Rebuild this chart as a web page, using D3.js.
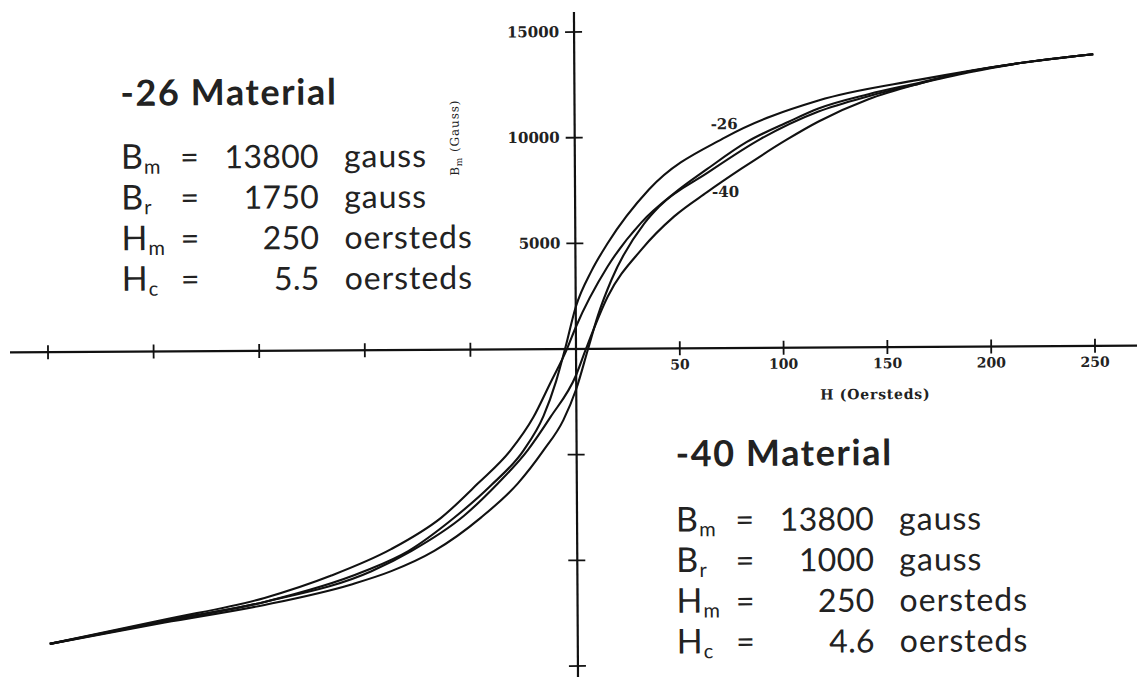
<!DOCTYPE html>
<html><head><meta charset="utf-8">
<script src="https://cdn.jsdelivr.net/npm/d3@7/dist/d3.min.js"></script>
<style>body{margin:0;background:#fff}svg{display:block}</style>
</head><body>
<svg id="chart" width="1137" height="677"></svg>
<script>
// ---- data ----
const xTickValues = [-250, -200, -150, -100, -50, 50, 100, 150, 200, 250];
const xTickLabels = ["", "", "", "", "", "50", "100", "150", "200", "250"];
const yTickValues = [-15000, -10000, -5000, 5000, 10000, 15000];
const yTickLabels = ["", "", "", "5000", "10000", "15000"];

// -26 material, descending branch (H in oersteds, B in gauss)
const desc26H = [-250, -195.5, -148.2, -100.9, -80, -58.2, -40.7, -25.1, -15.6, -9.5, -5.2, 0, 7.7, 15.4, 35.6, 72.7, 117.5, 165.7, 213.9, 250];
const desc26B = [-13800, -12729, -11877, -10458, -9512, -7950, -6436, -4779, -3170, -1514, 0, 1987, 3691, 4969, 7524, 9985, 11688, 12634, 13392, 13800];
// -26 material, ascending branch
const asc26H = [-250, -195.5, -148.2, -107, -88.1, -67.7, -45.5, -27.9, -15.6, -6.2, 0, 5.8, 10.6, 17.3, 33.2, 40.5, 63.6, 89.6, 117.5, 141.6, 165.7, 189.8, 213.9, 250];
const asc26B = [-13800, -12823, -12019, -11073, -10458, -9512, -7950, -6341, -4779, -3360, -1893, 0, 1562, 3265, 5915, 6719, 8281, 9890, 11168, 11877, 12445, 12966, 13392, 13800];
// -40 material, descending branch
const desc40H = [-250, -195.5, -148.2, -116.5, -88.1, -64.4, -46.9, -31.3, -20.4, -12.3, -4.3, 0, 15.4, 31.8, 47.7, 63.6, 82.9, 103.1, 117.5, 141.6, 165.7, 189.8, 213.9, 250];
const desc40B = [-13800, -12682, -11688, -10647, -9417, -7950, -6341, -4779, -3218, -1609, 0, 1041, 3880, 5962, 7335, 8470, 9748, 10694, 11309, 11972, 12492, 13013, 13392, 13800];
// -40 material, ascending branch
const asc40H = [-250, -195.5, -148.2, -97.5, -78.6, -53.5, -37.4, -23.2, -12.3, 0, 4.8, 15.4, 31.8, 47.7, 63.6, 80, 102.1, 117.5, 141.6, 165.7, 189.8, 213.9, 250];
const asc40B = [-13800, -12776, -11877, -10458, -9512, -7855, -6341, -4779, -3218, -1230, 0, 2461, 4685, 6246, 7382, 8470, 9843, 10694, 11735, 12445, 13013, 13392, 13800];

const curveNames = ["-26", "-40"];
const curveLabelH = [65.5, 66];
const curveLabelB = [10360, 7150];
const materialTitles = ["-26 Material", "-40 Material"];
const paramSymbols = [["B", "m"], ["B", "r"], ["H", "m"], ["H", "c"]];
const params26 = ["13800", "1750", "250", "5.5"];
const params40 = ["13800", "1000", "250", "4.6"];
const paramUnits = ["gauss", "gauss", "oersteds", "oersteds"];
const xAxisTitle = "H (Oersteds)";

// ---- drawing ----
const svg = d3.select("#chart");
const x = d3.scaleLinear().domain([-250, 0, 250]).range([48, 576, 1095]);
const y = d3.scaleLinear().domain([-15000, 15000]).range([666, 32]);
const x0 = x(0), y0 = y(0);

const g = svg.append("g").attr("transform", `rotate(-0.35, ${x0}, ${y0})`);

// axes
g.append("line").attr("x1", 10).attr("x2", 1137).attr("y1", y0).attr("y2", y0)
  .attr("stroke", "#111").attr("stroke-width", 2.2);
g.append("line").attr("x1", x0).attr("x2", x0).attr("y1", 12).attr("y2", 677)
  .attr("stroke", "#111").attr("stroke-width", 2.2);

// x ticks
g.selectAll(".xt").data(xTickValues).join("line").attr("class", "xt")
  .attr("x1", d => x(d)).attr("x2", d => x(d)).attr("y1", y0 - 7).attr("y2", y0 + 7)
  .attr("stroke", "#111").attr("stroke-width", 1.8);
g.selectAll(".xl").data(xTickValues).join("text").attr("class", "xl")
  .attr("x", d => x(d)).attr("y", y0 + 21).attr("text-anchor", "middle")
  .attr("font-family", "DejaVu Serif").attr("font-weight", "bold").attr("font-size", 14)
  .attr("fill", "#222").text((d, i) => xTickLabels[i]);

// y ticks
g.selectAll(".yt").data(yTickValues).join("line").attr("class", "yt")
  .attr("x1", x0 - 9).attr("x2", x0 + 8).attr("y1", d => y(d)).attr("y2", d => y(d))
  .attr("stroke", "#111").attr("stroke-width", 1.8);
g.selectAll(".yl").data(yTickValues).join("text").attr("class", "yl")
  .attr("x", x0 - 15).attr("y", d => y(d) + 5).attr("text-anchor", "end")
  .attr("font-family", "DejaVu Serif").attr("font-weight", "bold").attr("font-size", 15)
  .attr("fill", "#222").text((d, i) => yTickLabels[i]);

// axis titles
g.append("text").attr("x", 875).attr("y", 401).attr("text-anchor", "middle")
  .attr("font-family", "DejaVu Serif").attr("font-weight", "bold").attr("font-size", 14)
  .attr("letter-spacing", 0.8).attr("fill", "#222").text(xAxisTitle);
const yt = g.append("text").attr("transform", "translate(460,137) rotate(-90)")
  .attr("text-anchor", "middle").attr("font-family", "DejaVu Serif").attr("font-size", 12)
  .attr("letter-spacing", 0.9).attr("fill", "#222");
yt.append("tspan").text("B");
yt.append("tspan").attr("font-size", 9).attr("dy", 3).text("m");
yt.append("tspan").attr("dy", -3).text(" (Gauss)");

// curves
const line = d3.line().x(d => x(d[0])).y(d => y(d[1])).curve(d3.curveMonotoneX);
const branches = [
  d3.zip(desc26H, desc26B), d3.zip(asc26H, asc26B),
  d3.zip(desc40H, desc40B), d3.zip(asc40H, asc40B)
];
g.selectAll(".branch").data(branches).join("path").attr("class", "branch")
  .attr("d", line).attr("fill", "none").attr("stroke", "#111").attr("stroke-width", 2.1);

// curve labels
g.selectAll(".cl").data(curveNames).join("text").attr("class", "cl")
  .attr("x", (d, i) => x(curveLabelH[i])).attr("y", (d, i) => y(curveLabelB[i]))
  .attr("font-family", "DejaVu Serif").attr("font-weight", "bold").attr("font-size", 15)
  .attr("fill", "#222").text(d => d);

// material blocks
function block(px, titleY, lineY, vals, title) {
  const tg = g.append("g").attr("font-family", "Lato, 'Open Sans', sans-serif").attr("fill", "#222");
  tg.append("text").attr("x", px).attr("y", titleY).attr("font-weight", "bold").attr("font-size", 36)
    .attr("letter-spacing", 1.6).text(title);
  paramSymbols.forEach((s, i) => {
    const yy = lineY + i * 40.7;
    const t = tg.append("text").attr("x", px).attr("y", yy).attr("font-size", 32).attr("letter-spacing", 1);
    t.append("tspan").attr("font-size", 34).text(s[0]);
    t.append("tspan").attr("font-size", 20).attr("dy", 5).text(s[1]);
    tg.append("text").attr("x", px + 78).attr("y", yy).attr("text-anchor", "end").attr("font-size", 32).text("=");
    tg.append("text").attr("x", px + 198).attr("y", yy).attr("text-anchor", "end").attr("font-size", 32).attr("letter-spacing", 0.3).text(vals[i]);
    tg.append("text").attr("x", px + 223).attr("y", yy).attr("font-size", 32).attr("letter-spacing", 1).text(paramUnits[i]);
  });
}
block(122, 103, 166, params26, materialTitles[0]);
block(675, 467, 532, params40, materialTitles[1]);
</script>
</body></html>
